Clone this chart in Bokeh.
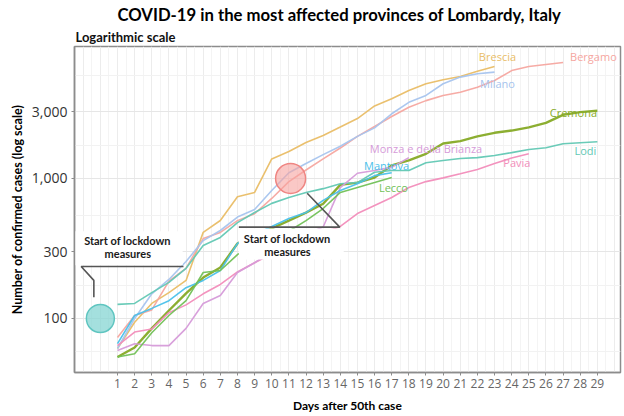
import math
from bokeh.plotting import figure
from bokeh.models import (FixedTicker, Range1d, Title, Label, BoxAnnotation,
                          NumeralTickFormatter)
from bokeh.core.properties import value
from bokeh.embed import file_html
from bokeh.resources import INLINE

# ---------------- data ----------------
brescia = [61, 94, 128, 153, 187, 412, 501, 741, 795, 1380, 1560, 1810, 2030, 2330,
           2680, 3300, 3710, 4250, 4750, 5070, 5350, 5840, 6310]
bergamo = [73, 105, 115, 185, 228, 372, 412, 500, 560, 720, 950, 1150, 1380, 1650,
           2000, 2350, 2770, 3230, 3600, 3920, 4130, 4490, 5010, 5900, 6310, 6520, 6740]
milano = [61, 100, 150, 190, 255, 360, 425, 530, 600, 820, 1100, 1280, 1480, 1700,
          2000, 2300, 2900, 3500, 3920, 4750, 5300, 5600, 5750]
cremona = [53, 62, 85, 114, 151, 196, 231, 343, 400, 440, 500, 570, 660, 900, 935,
           1016, 1240, 1345, 1500, 1780, 1850, 2000, 2120, 2200, 2320, 2500, 2850, 2980, 3050]
lodi = [126, 128, 153, 181, 228, 332, 379, 484, 571, 664, 731, 795, 846, 917, 935,
        1107, 1140, 1140, 1296, 1345, 1389, 1410, 1460, 1530, 1610, 1660, 1770, 1800, 1830]
pavia = [64, 80, 84, 110, 125, 150, 175, 215, 250, 290, 330, 370, 410, 454, 562, 641,
         731, 863, 950, 1010, 1080, 1160, 1280, 1400, 1500]
monza = [59, 66, 64, 64, 85, 128, 146, 213, 250, 300, 350, 400, 450, 860, 1090, 1140,
         1200, 1410]
mantova = [66, 105, 118, 134, 166, 187, 220, 343, 400, 454, 518, 571, 697, 820, 917,
           1048, 1100]
lecco = [53, 56, 79, 105, 134, 213, 220, 286, 330, 380, 420, 500, 610, 795, 863, 935, 1016]

names = ["Brescia", "Bergamo", "Milano", "Cremona", "Lodi", "Pavia",
         "Monza e della Brianza", "Mantova", "Lecco"]
series = [brescia, bergamo, milano, cremona, lodi, pavia, monza, mantova, lecco]

x_ticks = list(range(1, 30))
y_ticks = [100, 300, 1000, 3000]

# ---------------- styles / label placement ----------------
colors = ["#E9BD66", "#F6A6A0", "#A6C4EE", "#86AA26", "#62C8B4", "#F28DBA",
          "#D69BD9", "#4BC1EA", "#72C157"]
widths = [1.6, 1.6, 1.6, 2.4, 1.6, 1.6, 1.6, 1.6, 1.6]
label_pos = [(23.17, 7430), (28.77, 7430), (23.17, 4770), (27.6, 2960), (28.3, 1585),
             (24.3, 1300), (19.0, 1640), (16.7, 1240), (17.1, 862)]

p = figure(width=624, height=416, y_axis_type="log",
           x_range=Range1d(-1.509, 30.35), y_range=Range1d(41.1, 8770),
           min_border_left=74, min_border_right=4, min_border_top=46,
           min_border_bottom=44, output_backend="svg", toolbar_location=None)
p.title.text = ""
p.background_fill_color = "white"
p.outline_line_color = "#8C8C8C"
p.outline_line_width = 1.5

sub = Title(text="Logarithmic scale", text_font="Lato", text_font_style="bold",
            text_font_size="13px", text_color="#111111", align="left", offset=1,
            standoff=3)
main = Title(text="COVID-19 in the most affected provinces of Lombardy, Italy",
             text_font="Lato", text_font_style="bold", text_font_size="16.7px",
             text_color="#000000", align="left", offset=43, standoff=2)
p.add_layout(sub, "above")
p.add_layout(main, "above")

# axes
yt = FixedTicker(ticks=y_ticks, minor_ticks=[57.7, 173, 548, 1732, 5477])
p.yaxis.ticker = yt
p.ygrid.ticker = yt
p.yaxis.formatter = NumeralTickFormatter(format="0,0")
p.xaxis.ticker = FixedTicker(ticks=x_ticks)
p.xgrid.ticker = FixedTicker(ticks=list(range(-1, 31)),
                             minor_ticks=[k + 0.5 for k in range(-2, 31)])
p.ygrid.grid_line_color = "#E6E6E6"
p.ygrid.minor_grid_line_color = "#F2F2F2"
p.xgrid.grid_line_color = "#ECECEC"
p.xgrid.minor_grid_line_color = "#F4F4F4"

for ax in (p.xaxis[0], p.yaxis[0]):
    ax.axis_line_color = "#8C8C8C"
    ax.axis_line_width = 1.5
    ax.major_tick_line_color = "#8C8C8C"
    ax.major_tick_out = 3
    ax.major_tick_in = 0
    ax.minor_tick_line_color = None
    ax.major_label_standoff = 3
    ax.axis_label_text_font = "Lato"
    ax.axis_label_text_font_style = "bold"
    ax.axis_label_text_color = "#000000"

p.yaxis.major_label_text_font = "Open Sans"
p.yaxis.major_label_text_font_size = "14px"
p.yaxis.major_label_text_color = "#333333"
p.yaxis.axis_label = "Number of confirmed cases (log scale)"
p.yaxis.axis_label_text_font_size = "12.5px"
p.yaxis.axis_label_standoff = 4

p.xaxis.major_label_text_font = "Open Sans"
p.xaxis.major_label_text_font_size = "12px"
p.xaxis.major_label_text_color = "#666666"
p.xaxis.axis_label = "Days after 50th case"
p.xaxis.axis_label_text_font_size = "12px"
p.xaxis.axis_label_standoff = 7

# series lines
for name, vals, c, w in zip(names, series, colors, widths):
    days = list(range(1, len(vals) + 1))
    p.line(days, vals, line_color=c, line_width=w, line_alpha=0.95)

# province labels
lx = [lp[0] for lp in label_pos]
ly = [lp[1] for lp in label_pos]
p.text(x=lx, y=ly, text=names, text_color=colors, text_font=value("Open Sans"),
       text_font_size="11px", text_align="center", text_baseline="middle")

# lockdown markers
p.scatter([0.0], [100], size=28, fill_color="#86D6D3", fill_alpha=0.75,
          line_color="#5FC5C0", line_width=1.5)
p.scatter([11.1], [1000], size=30, fill_color="#F6A3A0", fill_alpha=0.6,
          line_color="#EF8683", line_width=1.5)

# annotation boxes (white backgrounds)
p.add_layout(BoxAnnotation(left=-1.45, right=4.8, bottom=240, top=420,
                           fill_color="white", fill_alpha=1, line_color=None))
p.add_layout(BoxAnnotation(left=8.08, right=14.2, bottom=264, top=440,
                           fill_color="white", fill_alpha=1, line_color=None))

# bracket lines
p.line([4.85, -1.12, -0.38, -0.38], [235, 235, 187, 142], line_color="#555555",
       line_width=1.6, level="overlay")
p.line([8.08, 13.97, 12.07], [449, 449, 785], line_color="#555555",
       line_width=1.6, level="overlay")

for (tx, ty, t) in [(1.58, 361, "Start of lockdown"), (1.6, 291, "measures"),
                    (10.9, 371, "Start of lockdown"), (10.92, 303, "measures")]:
    p.add_layout(Label(x=tx, y=ty, text=t, text_font="Lato", text_font_style="bold",
                       text_font_size="11px", text_color="#1A1A1A",
                       text_align="center", text_baseline="middle"))

open("out.html", "w").write(file_html(p, INLINE))
